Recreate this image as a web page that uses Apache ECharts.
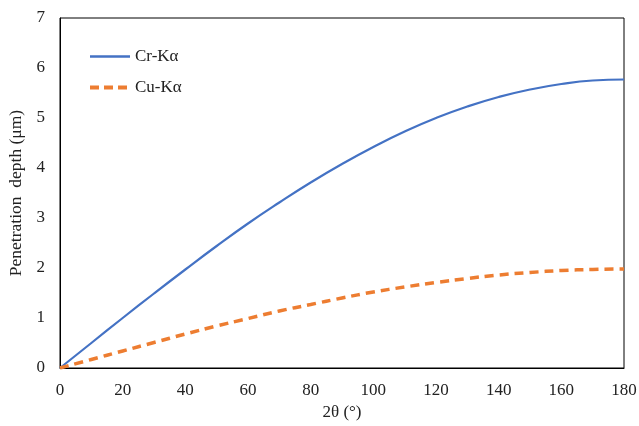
<!DOCTYPE html>
<html>
<head>
<meta charset="utf-8">
<script src="https://cdn.jsdelivr.net/npm/echarts@6/dist/echarts.min.js"></script>
<style>
  html, body { margin: 0; padding: 0; background: #fff; }
  #main { width: 639px; height: 426px; }
</style>
</head>
<body>
<div id="main"></div>
<script>
// 2θ angles (degrees)
var angles = [0, 10, 20, 30, 40, 50, 60, 70, 80, 90, 100, 110, 120, 130, 140, 150, 160, 170, 180];
// penetration depth (μm)
var crKa = [0, 0.50, 1.00, 1.49, 1.97, 2.44, 2.89, 3.31, 3.71, 4.08, 4.42, 4.73, 5.00, 5.23, 5.42, 5.57, 5.68, 5.75, 5.77];
var cuKa = [0, 0.17, 0.34, 0.51, 0.68, 0.84, 0.99, 1.14, 1.27, 1.40, 1.52, 1.62, 1.71, 1.79, 1.86, 1.91, 1.95, 1.97, 1.98];

function pairs(xs, ys) {
  return xs.map(function (x, i) { return [x, ys[i]]; });
}

var font = 'Liberation Serif, Times New Roman, serif';
var myChart = echarts.init(document.getElementById('main'));

var option = {
  animation: false,
  textStyle: { fontFamily: font },
  grid: {
    left: 60, right: 15, top: 18, bottom: 58,
    outerBoundsMode: 'none',
    show: true, borderColor: '#000', borderWidth: 1
  },
  legend: {
    left: 83, top: 43, orient: 'vertical', itemGap: 14,
    itemWidth: 40, itemHeight: 12,
    itemStyle: { opacity: 0 },
    textStyle: { fontFamily: font, fontSize: 17, color: '#222' },
    data: [
      { name: 'Cr-Kα', lineStyle: { width: 2.5 } },
      { name: 'Cu-Kα', lineStyle: { width: 4, type: [9, 5] } }
    ]
  },
  xAxis: {
    type: 'value', min: 0, max: 180, interval: 20,
    name: '2θ (°)', nameLocation: 'middle', nameGap: 34,
    nameTextStyle: { fontFamily: font, fontSize: 17, color: '#222' },
    axisLine: { lineStyle: { color: '#000' } },
    axisTick: { show: false },
    splitLine: { show: false },
    axisLabel: { fontFamily: font, fontSize: 17, color: '#222', margin: 14 }
  },
  yAxis: {
    type: 'value', min: 0, max: 7, interval: 1,
    name: 'Penetration  depth (μm)', nameLocation: 'middle', nameGap: 32,
    nameTextStyle: { fontFamily: font, fontSize: 17.5, color: '#222' },
    axisLine: { show: true, lineStyle: { color: '#000' } },
    axisTick: { show: false },
    splitLine: { show: false },
    axisLabel: { fontFamily: font, fontSize: 17, color: '#222', margin: 15 }
  },
  series: [
    {
      name: 'Cr-Kα', type: 'line', smooth: true, symbol: 'none',
      data: pairs(angles, crKa),
      itemStyle: { color: '#4472C4' },
      lineStyle: { color: '#4472C4', width: 2.2 }
    },
    {
      name: 'Cu-Kα', type: 'line', smooth: true, symbol: 'none',
      data: pairs(angles, cuKa),
      itemStyle: { color: '#ED7D31' },
      lineStyle: { color: '#ED7D31', width: 3.5, type: [9, 6] }
    }
  ]
};

myChart.setOption(option);
</script>
</body>
</html>
